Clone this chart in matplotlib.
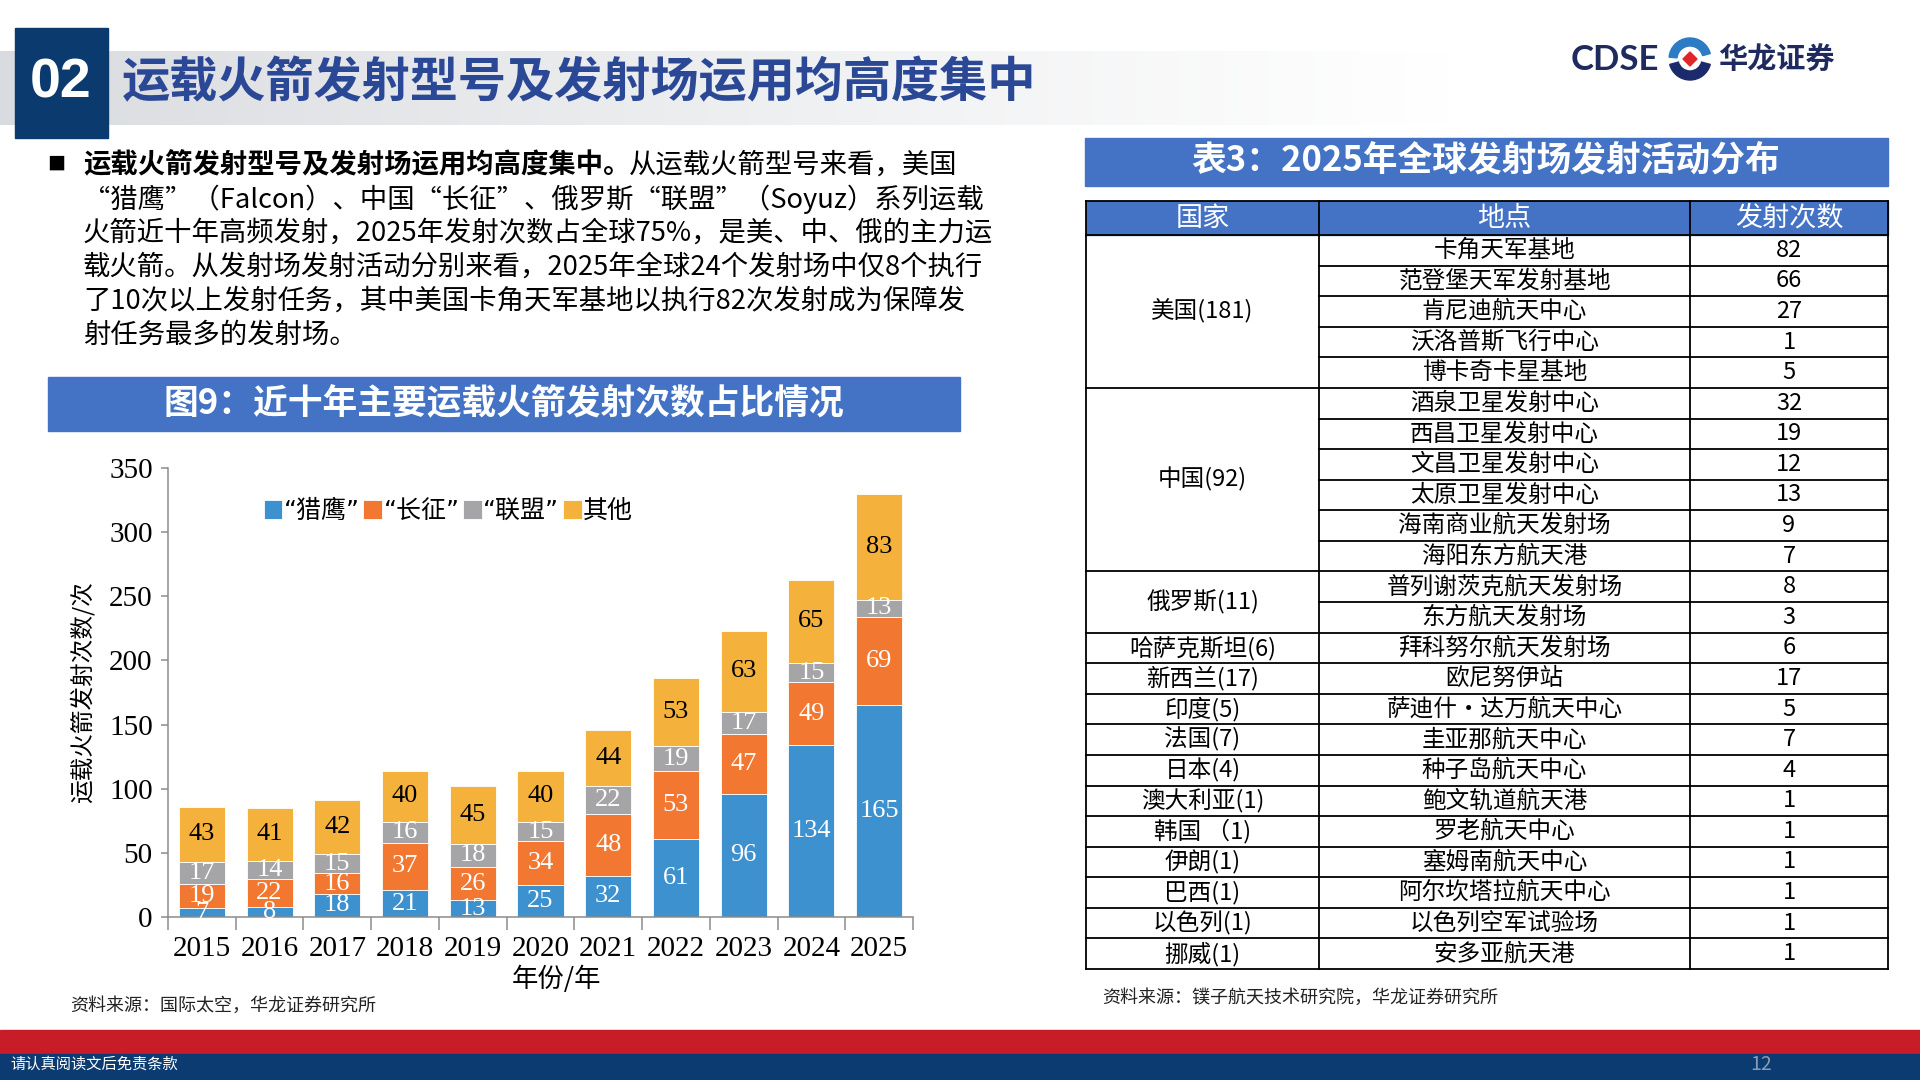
import matplotlib
matplotlib.use('Agg')
import matplotlib.pyplot as plt
from matplotlib.patches import Rectangle, Wedge, Polygon
import numpy as np

plt.rcParams['font.family'] = ['Noto Sans CJK SC', 'DejaVu Sans']

# ---------------- data ----------------
years = ['2015', '2016', '2017', '2018', '2019', '2020', '2021', '2022', '2023', '2024', '2025']
falcon = [7, 8, 18, 21, 13, 25, 32, 61, 96, 134, 165]
long_march = [19, 22, 16, 37, 26, 34, 48, 53, 47, 49, 69]
soyuz = [17, 14, 15, 16, 18, 15, 22, 19, 17, 15, 13]
others = [43, 41, 42, 40, 45, 40, 44, 53, 63, 65, 83]
series_names = ['“猎鹰”', '“长征”', '“联盟”', '其他']
y_ticks = [0, 50, 100, 150, 200, 250, 300, 350]

table_header = ['国家', '地点', '发射次数']
table_countries = ['美国(181)', '中国(92)', '俄罗斯(11)', '哈萨克斯坦(6)', '新西兰(17)',
                   '印度(5)', '法国(7)', '日本(4)', '澳大利亚(1)', '韩国 （1)', '伊朗(1)',
                   '巴西(1)', '以色列(1)', '挪威(1)']
table_country_rows = [5, 6, 2, 1, 1, 1, 1, 1, 1, 1, 1, 1, 1, 1]
table_sites = ['卡角天军基地', '范登堡天军发射基地', '肯尼迪航天中心', '沃洛普斯飞行中心', '博卡奇卡星基地',
               '酒泉卫星发射中心', '西昌卫星发射中心', '文昌卫星发射中心', '太原卫星发射中心',
               '海南商业航天发射场', '海阳东方航天港',
               '普列谢茨克航天发射场', '东方航天发射场',
               '拜科努尔航天发射场', '欧尼努伊站', '萨迪什•达万航天中心', '圭亚那航天中心',
               '种子岛航天中心', '鲍文轨道航天港', '罗老航天中心', '塞姆南航天中心',
               '阿尔坎塔拉航天中心', '以色列空军试验场', '安多亚航天港']
table_counts = [82, 66, 27, 1, 5, 32, 19, 12, 13, 9, 7, 8, 3, 6, 17, 5, 7, 4, 1, 1, 1, 1, 1, 1]

# ---------------- figure ----------------
W, H = 1920, 1080
fig = plt.figure(figsize=(19.2, 10.8), dpi=100)
bg = fig.add_axes([0, 0, 1, 1], zorder=0)
bg.axis('off')


def Y(y):
    return H - y


# header gradient band
g = np.linspace(0, 1, 600) ** 0.9
c0 = np.array([0.85, 0.86, 0.875])
c1 = np.array([1.0, 1.0, 1.0])
img = (c0[None, :] * (1 - g[:, None]) + c1[None, :] * g[:, None])[None, :, :]
bg.imshow(img, extent=[0, 1450, Y(125), Y(51)], aspect='auto', zorder=0)
bg.set_xlim(0, W)
bg.set_ylim(0, H)

bg.add_patch(Rectangle((15, Y(138)), 93, 110, color='#0B3A6E', zorder=2))
bg.text(61, Y(84), '02', color='white', fontsize=40, fontweight='bold',
        family=['Liberation Sans Narrow', 'Liberation Sans', 'DejaVu Sans'],
        ha='center', va='center', zorder=3)
bg.text(122, Y(83), '运载火箭发射型号及发射场运用均高度集中', color='#2B4896', fontsize=34.7,
        fontweight='bold', ha='left', va='center', zorder=3)

# logo
navy = '#1F2A5E'
bg.text(1571, Y(60), 'CDSE', color=navy, fontsize=25, fontweight='bold',
        family=['Lato', 'DejaVu Sans'], ha='left', va='center')
cx, cy = 1690, Y(59)
bg.add_patch(Wedge((cx, cy), 21, 15, 175, width=8, color='#2C7BC4'))
bg.add_patch(Wedge((cx, cy), 21, 195, 345, width=9, color='#1B2A6B'))
bg.add_patch(Polygon([[cx, cy + 7], [cx + 7, cy], [cx, cy - 7], [cx - 7, cy]], color='#E0262B'))
bg.text(1718, Y(60), '华龙证券', color=navy, fontsize=21, fontweight='bold', ha='left', va='center')

# paragraph
pfs = 19.7
bg.text(56, Y(165), '■', fontsize=13, ha='center', va='center', color='black')
t_bold = bg.text(83, Y(165), '运载火箭发射型号及发射场运用均高度集中。', fontsize=pfs, fontweight='bold',
                 ha='left', va='center', color='black')
fig.canvas.draw()
renderer = fig.canvas.get_renderer()
bb = t_bold.get_window_extent(renderer)
x_after = bg.transData.inverted().transform((bb.x1, bb.y0))[0]
bg.text(x_after - 2, Y(165), '从运载火箭型号来看，美国', fontsize=pfs, ha='left', va='center', color='black')
para_lines = ['“猎鹰”（Falcon）、中国“长征”、俄罗斯“联盟”（Soyuz）系列运载',
              '火箭近十年高频发射，2025年发射次数占全球75%，是美、中、俄的主力运',
              '载火箭。从发射场发射活动分别来看，2025年全球24个发射场中仅8个执行',
              '了10次以上发射任务，其中美国卡角天军基地以执行82次发射成为保障发',
              '射任务最多的发射场。']
for i, line in enumerate(para_lines):
    bg.text(83, Y(199 + 34 * i), line, fontsize=pfs, ha='left', va='center', color='black')

# figure title bar
bg.add_patch(Rectangle((48, Y(431)), 912, 54, color='#4472C4'))
bg.text(504, Y(404), '图9：近十年主要运载火箭发射次数占比情况', color='white', fontsize=25,
        fontweight='bold', ha='center', va='center')
bg.text(70, Y(1006), '资料来源：国际太空，华龙证券研究所', fontsize=13, color='#222222',
        ha='left', va='center')

# table title bar
bg.add_patch(Rectangle((1085, Y(186)), 803, 48, color='#4472C4'))
bg.text(1486, Y(160), '表3：2025年全球发射场发射活动分布', color='white', fontsize=25,
        fontweight='bold', ha='center', va='center')

# table
x0, x1, x2, x3 = 1086, 1319, 1690, 1888
top, hdr_bot = 201, 235
nrows = len(table_sites)
rh = (969 - hdr_bot) / nrows
bottom = hdr_bot + rh * nrows
bg.add_patch(Rectangle((x0, Y(hdr_bot)), x3 - x0, hdr_bot - top, color='#4472C4', zorder=1))
lw = 1.3
for xv in (x0, x1, x2, x3):
    bg.plot([xv, xv], [Y(top), Y(bottom)], color='black', lw=lw, zorder=3)
bg.plot([x0, x3], [Y(top), Y(top)], color='black', lw=lw, zorder=3)
bg.plot([x0, x3], [Y(hdr_bot), Y(hdr_bot)], color='black', lw=lw, zorder=3)
for i in range(1, nrows + 1):
    yy = Y(hdr_bot + rh * i)
    bg.plot([x1, x3], [yy, yy], color='black', lw=lw, zorder=3)
hcent = [(x0 + x1) / 2, (x1 + x2) / 2, (x2 + x3) / 2]
for hx, ht in zip(hcent, table_header):
    bg.text(hx, Y((top + hdr_bot) / 2), ht, color='white', fontsize=19.5, ha='center', va='center', zorder=4)
r = 0
for name, n in zip(table_countries, table_country_rows):
    yc = hdr_bot + rh * (r + n / 2)
    bg.text(hcent[0], Y(yc), name, fontsize=17, ha='center', va='center', color='black', zorder=4)
    r += n
    yy = Y(hdr_bot + rh * r)
    bg.plot([x0, x1], [yy, yy], color='black', lw=lw, zorder=3)
for i, (site, cnt) in enumerate(zip(table_sites, table_counts)):
    yc = Y(hdr_bot + rh * (i + 0.5))
    bg.text(hcent[1], yc, site, fontsize=17, ha='center', va='center', color='black', zorder=4)
    bg.text(hcent[2], yc, str(cnt), fontsize=17, ha='center', va='center', color='black', zorder=4)
bg.text(1102, Y(998), '资料来源：镤子航天技术研究院，华龙证券研究所', fontsize=13, color='#222222',
        ha='left', va='center')

# footer
bg.add_patch(Rectangle((0, Y(1054)), W, 24, color='#C81D28'))
bg.add_patch(Rectangle((0, 0), W, 26, color='#0B3B70'))
bg.text(10, Y(1064), '请认真阅读文后免责条款', color='white', fontsize=11, ha='left', va='center')
bg.text(1761, Y(1064), '12', color='#8A9BB5', fontsize=14, ha='center', va='center')

# ---------------- chart ----------------
ax = fig.add_axes([168 / W, (H - 917) / H, 745 / W, 449 / H], zorder=2)
ax.patch.set_alpha(0)
colors = ['#3D91CE', '#F27730', '#A5A5A7', '#F4B13C']
label_colors = ['white', 'white', 'white', 'black']
x = np.arange(len(years))
base = np.zeros(len(years))
serif = ['Liberation Serif', 'DejaVu Serif']
for vals, col, lc, nm in zip([falcon, long_march, soyuz, others], colors, label_colors, series_names):
    bars = ax.bar(x, vals, bottom=base, width=0.68, color=col, edgecolor='white', linewidth=0.6, label=nm)
    ax.bar_label(bars, labels=[str(v) for v in vals], label_type='center', color=lc,
                 fontsize=19, family=serif)
    base += np.array(vals)

ax.set_xlim(-0.5, len(years) - 0.5)
ax.set_ylim(0, 350)
ax.set_yticks(y_ticks)
ax.set_yticklabels([str(v) for v in y_ticks], family=serif, fontsize=21)
ax.set_xticks(x)
ax.set_xticklabels(years, family=serif, fontsize=21)
ax.set_xticks(np.arange(-0.5, len(years), 1.0), minor=True)
ax.tick_params(axis='x', which='major', length=0, pad=14)
ax.tick_params(axis='x', which='minor', length=9, width=1.1, color='#8C8C8C', direction='out')
ax.tick_params(axis='y', length=5, width=1.1, color='#8C8C8C', pad=6)
for s in ('top', 'right'):
    ax.spines[s].set_visible(False)
for s in ('left', 'bottom'):
    ax.spines[s].set_color('#8C8C8C')
    ax.spines[s].set_linewidth(1.1)

ax.set_ylabel('运载火箭发射次数/次', fontsize=17)
ax.yaxis.set_label_coords(-0.098, 0.5)
ax.set_xlabel('年份/年', fontsize=19)
ax.xaxis.set_label_coords(0.522, -0.108)

leg = ax.legend(loc='center left', bbox_to_anchor=(0.115, 0.904), ncol=4, frameon=False,
                handlelength=0.75, handleheight=0.75, handletextpad=0.05, columnspacing=0.15,
                borderaxespad=0, prop={'family': ['DejaVu Sans', 'Noto Sans CJK SC'], 'size': 18})

fig.savefig('out.png', dpi=100)
